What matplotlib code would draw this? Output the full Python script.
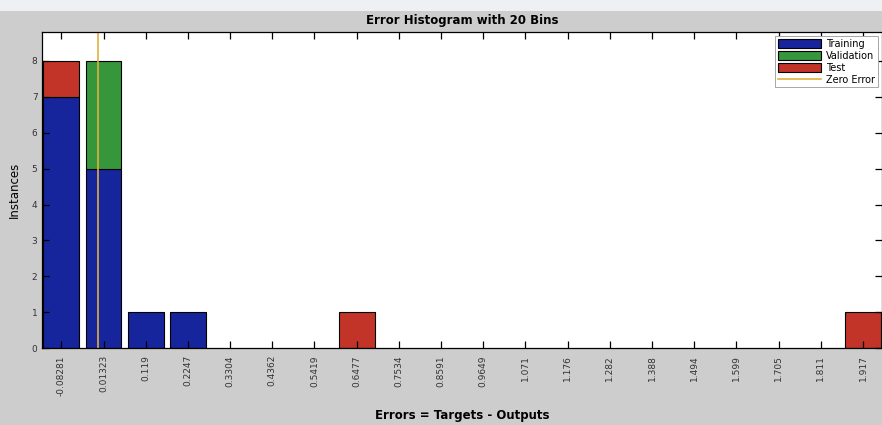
import matplotlib
matplotlib.use("Agg")
from matplotlib import pyplot as plt
from matplotlib.patches import Rectangle

bin_labels = ["-0.08281", "0.01323", "0.119", "0.2247", "0.3304", "0.4362",
              "0.5419", "0.6477", "0.7534", "0.8591", "0.9649", "1.071",
              "1.176", "1.282", "1.388", "1.494", "1.599", "1.705", "1.811",
              "1.917"]
training = [7, 5, 1, 1, 0, 0, 0, 0, 0, 0, 0, 0, 0, 0, 0, 0, 0, 0, 0, 0]
validation = [0, 3, 0, 0, 0, 0, 0, 0, 0, 0, 0, 0, 0, 0, 0, 0, 0, 0, 0, 0]
test = [1, 0, 0, 0, 0, 0, 0, 1, 0, 0, 0, 0, 0, 0, 0, 0, 0, 0, 0, 1]
zero_error = 0.0


def stacked(ax, heights, bottoms, color, label):
    # skip empty bins so no flat outline is drawn on the axis
    idx = [i for i, h in enumerate(heights) if h > 0]
    return ax.bar(idx, [heights[i] for i in idx], bottom=[bottoms[i] for i in idx],
                  width=0.85, color=color, edgecolor="black", linewidth=0.8, label=label)


def main():
    fig = plt.figure(figsize=(8.82, 4.25), dpi=100, facecolor="#cdcdcd")
    fig.patches.append(Rectangle((0, 0.975), 1, 0.025, transform=fig.transFigure,
                                 facecolor="#eef0f4", edgecolor="none"))
    ax = fig.add_axes([0.048, 0.181, 0.952, 0.744])
    ax.set_facecolor("white")

    x = list(range(len(bin_labels)))
    zeros = [0] * len(x)
    bottom2 = [t + v for t, v in zip(training, validation)]
    stacked(ax, training, zeros, "#16259c", "Training")
    stacked(ax, validation, training, "#35963c", "Validation")
    stacked(ax, test, bottom2, "#c23328", "Test")

    # place zero error line on the index scale from the bin centres
    c0, c1 = float(bin_labels[0]), float(bin_labels[1])
    zx = (zero_error - c0) / (c1 - c0)
    ax.axvline(zx, color="#e0b040", linewidth=1.2, label="Zero Error")

    ax.set_xlim(-0.45, len(x) - 0.55)
    ax.set_ylim(0, 8.81)
    ax.set_xticks(x)
    ax.set_xticklabels(bin_labels, rotation=90, fontsize=6.5, color="#333333")
    ax.set_yticks(range(9))
    ax.tick_params(axis="y", labelsize=6.5, labelcolor="#333333")
    ax.tick_params(direction="in", top=True, right=True, length=5, width=0.9)
    ax.tick_params(axis="x", pad=5)
    for s in ax.spines.values():
        s.set_linewidth(0.9)

    ax.set_title("Error Histogram with 20 Bins", fontsize=8.5, fontweight="bold", pad=6)
    ax.set_xlabel("Errors = Targets - Outputs", fontsize=8.5, fontweight="bold", labelpad=10)
    ax.set_ylabel("Instances", fontsize=8.5, labelpad=8)

    handles, labels = ax.get_legend_handles_labels()
    order = [labels.index(n) for n in ["Training", "Validation", "Test", "Zero Error"]]
    leg = ax.legend([handles[i] for i in order], [labels[i] for i in order],
                    loc="upper right", fontsize=7, handlelength=4.5, handleheight=1.1,
                    fancybox=False, framealpha=1, edgecolor="#999999",
                    borderaxespad=0.4, borderpad=0.3, labelspacing=0.2,
                    handletextpad=0.5)
    leg.get_frame().set_linewidth(0.6)

    plt.savefig("out.png", dpi=100, facecolor=fig.get_facecolor())


if __name__ == "__main__":
    main()
